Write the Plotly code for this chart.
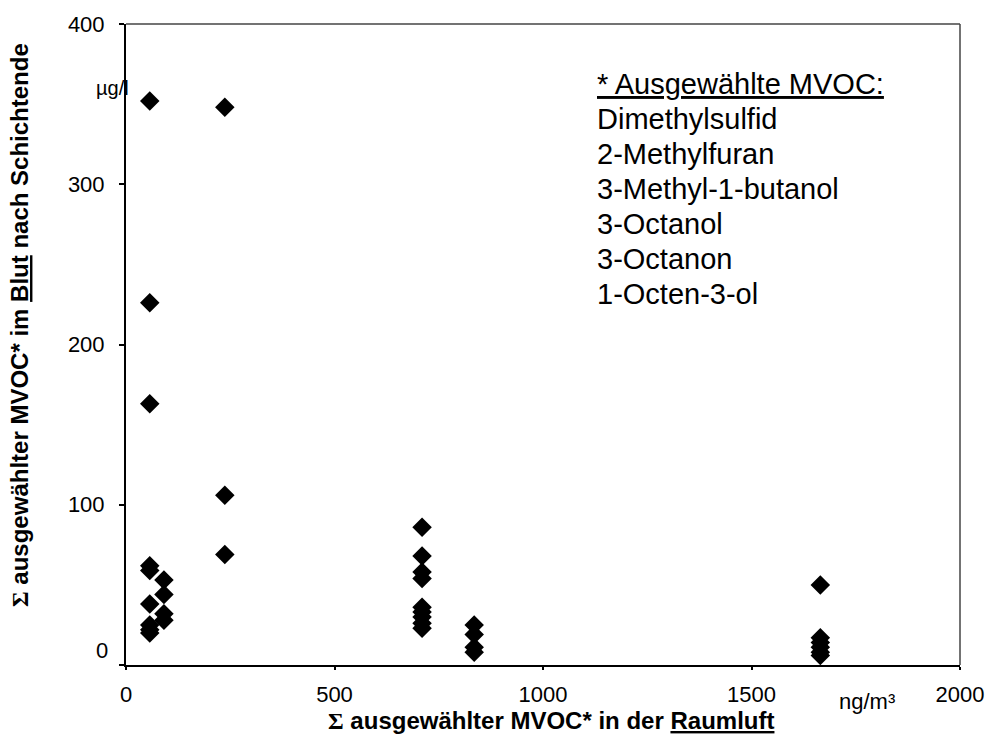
import plotly.graph_objects as go

# Data (x: ng/m³ room air, y: µg/l blood)
x_col1 = [57] * 9
y_col1 = [352, 226, 163, 62, 59, 38, 25, 22, 20]
x_col2 = [91] * 4
y_col2 = [53, 44, 32, 28]
x_col3 = [237] * 3
y_col3 = [348, 106, 69]
x_col4 = [710] * 9
y_col4 = [86, 68, 58, 54, 36, 33, 30, 26, 23]
x_col5 = [835] * 4
y_col5 = [25, 19, 11, 8]
x_col6 = [1665] * 6
y_col6 = [50, 17, 14, 11, 8, 6]

x_vals = x_col1 + x_col2 + x_col3 + x_col4 + x_col5 + x_col6
y_vals = y_col1 + y_col2 + y_col3 + y_col4 + y_col5 + y_col6

x_ticks = [0, 500, 1000, 1500, 2000]
y_ticks = [0, 100, 200, 300, 400]
y_ticktext = ["", "100", "200", "300", "400"]

legend_title = "* Ausgewählte MVOC:"
legend_lines = ["Dimethylsulfid", "2-Methylfuran", "3-Methyl-1-butanol",
                "3-Octanol", "3-Octanon", "1-Octen-3-ol"]

W, H = 996, 749
L, R, T, B = 126, 28, 24, 84
pw, ph = W - L - R, H - T - B

def px(xp):
    return (xp - L) / pw

def py(yp):
    return (H - B - yp) / ph

tick_font = dict(family="Liberation Sans, Arial", size=22, color="black")
title_font = dict(family="Liberation Sans Narrow, Arial Narrow, Liberation Sans", size=24, color="black")
legend_font = dict(family="Liberation Sans, Arial", size=29, color="black")

fig = go.Figure()
fig.add_trace(go.Scatter(
    x=x_vals, y=y_vals, mode="markers",
    marker=dict(symbol="diamond", size=15, color="black", line=dict(width=0)),
    showlegend=False, cliponaxis=False,
))

fig.update_layout(
    width=W, height=H,
    margin=dict(l=L, r=R, t=T, b=B),
    paper_bgcolor="white", plot_bgcolor="white",
    xaxis=dict(range=[0, 2000], tickvals=x_ticks, showgrid=False, zeroline=False,
               showline=True, linecolor="black", linewidth=2,
               ticks="outside", ticklen=3, tickwidth=2, tickcolor="black",
               tickfont=tick_font, ticklabelstandoff=6),
    yaxis=dict(range=[0, 400], tickvals=y_ticks, ticktext=y_ticktext,
               showgrid=False, zeroline=False,
               showline=True, linecolor="black", linewidth=2,
               ticks="outside", ticklen=5, tickwidth=2, tickcolor="black",
               tickfont=tick_font, ticklabelstandoff=10),
    shapes=[
        dict(type="line", xref="paper", yref="paper", x0=0, x1=1, y0=1, y1=1,
             line=dict(color="#444444", width=1.5)),
        dict(type="line", xref="paper", yref="paper", x0=1, x1=1, y0=0, y1=1,
             line=dict(color="#444444", width=1.5)),
    ],
)

sigma = '<span style="font-family:Liberation Serif, Times New Roman">Σ</span>'
annotations = [
    dict(text="0", x=0, y=0, xref="paper", yref="y", xanchor="right", yanchor="middle",
         xshift=-16, yshift=15, showarrow=False, font=tick_font),
    dict(text="<b>" + sigma + " ausgewählter MVOC* in der <u>Raumluft</u></b>",
         x=px(555), y=py(720), xref="paper", yref="paper", xanchor="center", yanchor="middle",
         showarrow=False, font=title_font),
    dict(text="<b>" + sigma + " ausgewählter MVOC* im <u>Blut</u> nach Schichtende</b>",
         x=px(18), y=py(325), xref="paper", yref="paper", xanchor="center", yanchor="middle",
         textangle=-90, showarrow=False, font=title_font),
    dict(text="µg/l", x=px(112), y=py(88), xref="paper", yref="paper",
         xanchor="center", yanchor="middle", showarrow=False,
         font=dict(family="Liberation Sans, Arial", size=20, color="black")),
    dict(text="ng/m³", x=px(874), y=py(701), xref="paper", yref="paper",
         xanchor="center", yanchor="middle", showarrow=False,
         font=dict(family="Liberation Sans, Arial", size=22, color="black")),
    dict(text="<u>" + legend_title + "</u>", x=px(600), y=py(84), xref="paper", yref="paper",
         xanchor="left", yanchor="middle", align="left", showarrow=False, font=legend_font),
]
for i, line in enumerate(legend_lines):
    annotations.append(dict(text=line, x=px(600), y=py(119 + 35 * i), xref="paper", yref="paper",
                            xanchor="left", yanchor="middle", align="left", showarrow=False,
                            font=legend_font))
fig.update_layout(annotations=annotations)

fig.write_html("out.html")
